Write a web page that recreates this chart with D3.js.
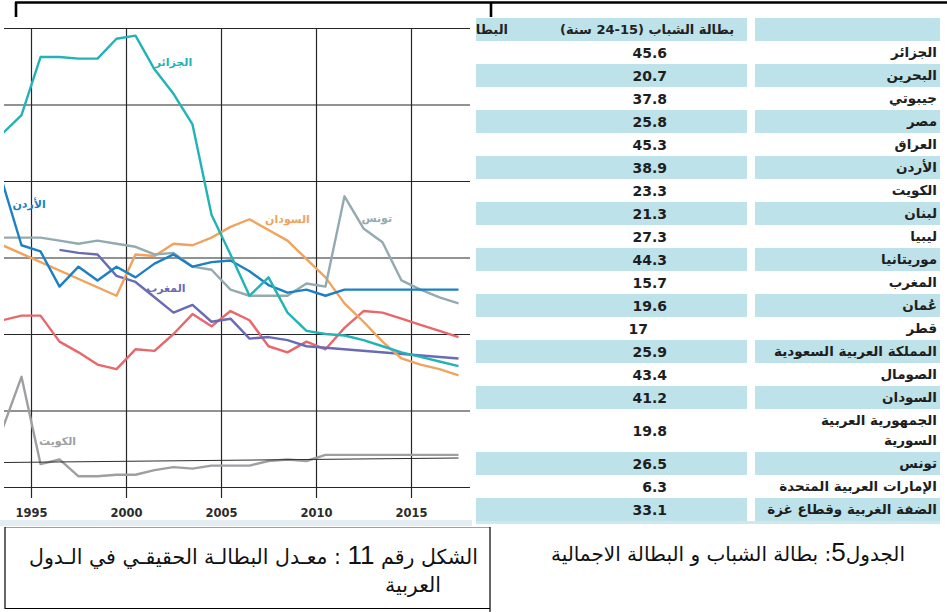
<!DOCTYPE html>
<html>
<head>
<meta charset="utf-8">
<script src="https://cdn.jsdelivr.net/npm/d3@7"></script>
<style>
body { margin: 0; background: #fff; }
svg { display: block; }
text { font-family: "DejaVu Sans", sans-serif; }
</style>
</head>
<body>
<div id="page"></div>
<script>
// years of the line chart (points sit in the middle of each year)
var years = [1993, 1994, 1995, 1996, 1997, 1998, 1999, 2000, 2001, 2002, 2003, 2004, 2005,
             2006, 2007, 2008, 2009, 2010, 2011, 2012, 2013, 2014, 2015, 2016, 2017];
var yearTicks = [1995, 2000, 2005, 2010, 2015];
var valueTicks = [0, 5, 10, 15, 20, 25, 30];

var algeria = [23.1, 24.3, 28.1, 28.1, 28.0, 28.0, 29.3, 29.5, 27.3, 25.7, 23.7, 17.8, 15.2,
               12.5, 13.7, 11.4, 10.2, 10.0, 9.9, 9.6, 9.2, 8.8, 8.5, 8.2, 7.9];
var jordan = [19.9, 15.8, 15.4, 13.1, 14.4, 13.5, 14.4, 13.7, 14.6, 15.2, 14.4, 14.7, 14.8,
              14.1, 13.2, 12.7, 12.9, 12.5, 12.9, 12.9, 12.9, 12.9, 12.9, 12.9, 12.9];
var tunisia = [16.3, 16.3, 16.3, 16.1, 15.9, 16.1, 15.9, 15.7, 15.2, 15.3, 14.4, 14.2, 12.9,
               12.5, 12.5, 12.5, 13.3, 13.1, 19.0, 16.9, 16.0, 13.5, 12.9, 12.4, 12.0];
var sudan = [15.8, null, null, null, null, null, 12.5, 15.2, 15.1, 15.9, 15.8, 16.3, 17.0,
             17.5, 16.8, 16.1, 14.9, 13.7, 12.0, 10.8, 9.5, 8.4, 8.0, 7.7, 7.3];
var morocco = [null, null, null, 15.5, 15.3, 15.2, 13.8, 13.4, 12.4, 11.4, 11.9, 10.8, 11.0,
               9.7, 9.8, 9.6, 9.2, 9.1, null, null, null, null, null, null, 8.4];
var redSeries = [10.9, 11.2, 11.2, 9.5, 8.8, 8.0, 7.7, 9.0, 8.9, 10.0, 11.3, 10.5, 11.5,
                 10.9, 9.2, 8.8, 9.5, 9.0, 10.4, 11.5, 11.4, 11.0, 10.6, 10.2, 9.8];
var kuwait = [3.8, 7.2, 1.5, 1.8, 0.7, 0.7, 0.8, 0.8, 1.1, 1.3, 1.2, 1.4, 1.4,
              1.4, 1.7, 1.8, 1.7, 2.1, 2.1, 2.1, 2.1, 2.1, 2.1, 2.1, 2.1];
var blackSeries = [1.6, null, null, null, null, null, null, null, null, null, null, null, null,
                   null, null, null, null, null, null, null, null, null, null, null, 1.9];

// table 5
var countries = ["الجزائر", "البحرين", "جيبوتي", "مصر", "العراق", "الأردن", "الكويت", "لبنان",
                 "ليبيا", "موريتانيا", "المغرب", "عُمان", "قطر", "المملكة العربية السعودية",
                 "الصومال", "السودان", "الجمهورية العربية\nالسورية", "تونس",
                 "الإمارات العربية المتحدة", "الضفة الغربية وقطاع غزة"];
var youthRates = ["45.6", "20.7", "37.8", "25.8", "45.3", "38.9", "23.3", "21.3", "27.3", "44.3",
                  "15.7", "19.6", "17", "25.9", "43.4", "41.2", "19.8", "26.5", "6.3", "33.1"];
var tableHeaders = ["بطالة الشباب (15-24 سنة)", "البطالة الاجمالية"];

var figureCaption = ["الشكل رقم ", "11", " : معـدل البطالـة الحقيقـي في الـدول", "العربية"];
var tableCaption = ["الجدول", "5", ": بطالة الشباب و البطالة الاجمالية"];

var w = 947;
var h = 612;

var svg = d3.select("#page")
    .append("svg")
    .attr("width", w)
    .attr("height", h);

var defs = svg.append("defs");
defs.append("clipPath").attr("id", "plotClip")
    .append("rect").attr("x", 4).attr("y", 0).attr("width", 466).attr("height", 520);
defs.append("clipPath").attr("id", "tableClip")
    .append("rect").attr("x", 476).attr("y", 10).attr("width", 471).attr("height", 515);

// ---------- line chart ----------
var x = d3.scaleLinear().domain([1995, 2015]).range([31, 411]);
var y = d3.scaleLinear().domain([0, 30]).range([487, 28]);

var chart = svg.append("g");

// light band at the bottom edge of the scanned figure
chart.append("rect")
    .attr("x", 0).attr("y", 520).attr("width", 472).attr("height", 6)
    .attr("fill", "#e4edf1");

var yGrid = chart.append("g")
    .attr("transform", "translate(4,0)")
    .call(d3.axisLeft(y).tickValues(valueTicks).tickSize(-466).tickFormat(""));
yGrid.select(".domain").remove();
yGrid.selectAll("line").attr("stroke", "#262626").attr("stroke-width", 1.2);

var xAxis = chart.append("g")
    .attr("transform", "translate(0,498)")
    .call(d3.axisBottom(x).tickValues(yearTicks).tickSize(-470).tickPadding(11).tickFormat(d3.format("d")));
xAxis.select(".domain").remove();
xAxis.selectAll("line").attr("stroke", "#262626").attr("stroke-width", 1.2);
xAxis.selectAll("text")
    .attr("fill", "#2b2b2b")
    .style("font-size", "11.5px")
    .style("font-weight", "bold");

var series = [
    {name: "الكويت", values: kuwait, color: "#9d9fa2"},
    {name: "", values: blackSeries, color: "#2e2e2e", width: 1.1},
    {name: "", values: redSeries, color: "#e8676b"},
    {name: "المغرب", values: morocco, color: "#6b6ab5"},
    {name: "السودان", values: sudan, color: "#f0a35d"},
    {name: "تونس", values: tunisia, color: "#93abb0"},
    {name: "الأردن", values: jordan, color: "#1c80c3"},
    {name: "الجزائر", values: algeria, color: "#22b3b7"}
];

var line = d3.line()
    .x(function(d) { return x(d.year + 0.5); })
    .y(function(d) { return y(d.value); });

chart.append("g")
    .attr("clip-path", "url(#plotClip)")
    .selectAll("path")
    .data(series)
    .enter()
    .append("path")
    .attr("fill", "none")
    .attr("stroke", function(d) { return d.color; })
    .attr("stroke-width", function(d) { return d.width || 2.4; })
    .attr("stroke-linejoin", "round")
    .attr("d", function(d) {
        var pts = [];
        years.forEach(function(yr, i) {
            if (d.values[i] !== null) pts.push({year: yr, value: d.values[i]});
        });
        return line(pts);
    });

// direct labels, placed in data units
var labelSpots = {
    "الجزائر": [2002.5, 27.8],
    "الأردن": [1994.9, 18.5],
    "السودان": [2008.5, 17.5],
    "تونس": [2013.2, 17.6],
    "المغرب": [2002.1, 13.0],
    "الكويت": [1996.4, 3.0]
};

chart.selectAll("text.lbl")
    .data(series.filter(function(d) { return d.name !== ""; }))
    .enter()
    .append("text")
    .attr("class", "lbl")
    .attr("x", function(d) { return x(labelSpots[d.name][0]); })
    .attr("y", function(d) { return y(labelSpots[d.name][1]); })
    .attr("dy", "0.35em")
    .attr("text-anchor", "middle")
    .attr("fill", function(d) { return d.color; })
    .style("font-size", "11px")
    .style("font-weight", "bold")
    .text(function(d) { return d.name; });

// ---------- table ----------
var cyan = "#bde2e9";
var rowH = 23;
var lineH = 20;
var cols = {total: [380, 553], youth: [553, 747], name: [755, 940]};

var rows = [];
var rowTop = 41;
countries.forEach(function(c, i) {
    var lines = c.split("\n");
    var hh = rowH + lineH * (lines.length - 1);
    rows.push({name: lines, value: youthRates[i], y0: rowTop, h: hh, fill: i % 2 ? cyan : "#fff"});
    rowTop += hh;
});

var table = svg.append("g").attr("clip-path", "url(#tableClip)");

// header row
table.append("rect").attr("x", cols.total[0]).attr("y", 18)
    .attr("width", cols.youth[1] - cols.total[0]).attr("height", rowH).attr("fill", cyan);
table.append("rect").attr("x", cols.name[0]).attr("y", 18)
    .attr("width", cols.name[1] - cols.name[0]).attr("height", rowH).attr("fill", cyan);
table.append("text")
    .attr("x", (cols.youth[0] + cols.youth[1]) / 2 - 3).attr("y", 18 + rowH / 2)
    .attr("dy", "0.35em").attr("direction", "rtl").attr("text-anchor", "middle")
    .attr("fill", "#222").style("font-size", "13px").style("font-weight", "bold")
    .text(tableHeaders[0]);
table.append("text")
    .attr("x", 508).attr("y", 18 + rowH / 2)
    .attr("dy", "0.35em").attr("direction", "rtl").attr("text-anchor", "start")
    .attr("fill", "#222").style("font-size", "13px").style("font-weight", "bold")
    .text(tableHeaders[1]);

var rowG = table.selectAll("g.row")
    .data(rows)
    .enter()
    .append("g")
    .attr("class", "row");

rowG.append("rect")
    .attr("x", cols.total[0]).attr("y", function(d) { return d.y0; })
    .attr("width", cols.youth[1] - cols.total[0]).attr("height", function(d) { return d.h; })
    .attr("fill", function(d) { return d.fill; });
rowG.append("rect")
    .attr("x", cols.name[0]).attr("y", function(d) { return d.y0; })
    .attr("width", cols.name[1] - cols.name[0]).attr("height", function(d) { return d.h; })
    .attr("fill", function(d) { return d.fill; });

// values lined up on the decimal point
rowG.append("text")
    .attr("x", function(d) { return d.value.indexOf(".") < 0 ? 648 : 667; })
    .attr("y", function(d) { return d.y0 + d.h / 2; })
    .attr("dy", "0.36em")
    .attr("text-anchor", "end")
    .attr("fill", "#1e1e1e")
    .style("font-size", "14px")
    .style("font-weight", "bold")
    .text(function(d) { return d.value; });

rowG.each(function(d) {
    var g = d3.select(this);
    d.name.forEach(function(t, k) {
        g.append("text")
            .attr("x", 937)
            .attr("y", d.y0 + rowH / 2 + k * lineH)
            .attr("dy", "0.35em")
            .attr("direction", "rtl")
            .attr("text-anchor", "start")
            .attr("fill", "#1e1e1e")
            .style("font-size", "13.5px")
            .style("font-weight", "bold")
            .text(t);
    });
});

// cut-off edge of the next table row
table.append("rect").attr("x", 476).attr("y", 521).attr("width", 464).attr("height", 3)
    .attr("fill", "#cfe8ee");

// ---------- frame and captions ----------
var frame = svg.append("g").attr("stroke", "#000").attr("fill", "none");
frame.append("line").attr("x1", 15).attr("x2", w).attr("y1", 2.5).attr("y2", 2.5).attr("stroke-width", 2.6);
frame.append("line").attr("x1", 16).attr("x2", 16).attr("y1", 2).attr("y2", 17).attr("stroke-width", 2.6);
frame.append("line").attr("x1", 491).attr("x2", 491).attr("y1", 2).attr("y2", 17).attr("stroke-width", 2.6);

frame.append("line").attr("x1", 5).attr("x2", 490).attr("y1", 527.5).attr("y2", 527.5).attr("stroke-width", 0.8).attr("stroke", "#888");
frame.append("line").attr("x1", 5).attr("x2", 5).attr("y1", 527).attr("y2", 609).attr("stroke-width", 1.2);
frame.append("line").attr("x1", 5).attr("x2", 490).attr("y1", 608.5).attr("y2", 608.5).attr("stroke-width", 1.2);
frame.append("line").attr("x1", 490).attr("x2", 490).attr("y1", 527).attr("y2", h).attr("stroke-width", 1.2);

var cap1 = svg.append("text")
    .attr("x", 478).attr("y", 564)
    .attr("direction", "rtl").attr("text-anchor", "start")
    .attr("fill", "#111").style("font-size", "20.5px");
cap1.append("tspan").text(figureCaption[0]);
cap1.append("tspan").style("font-size", "26px").style("font-family", "Liberation Sans").text(figureCaption[1]);
cap1.append("tspan").text(figureCaption[2]);

svg.append("text")
    .attr("x", 441).attr("y", 592)
    .attr("direction", "rtl").attr("text-anchor", "start")
    .attr("fill", "#111").style("font-size", "20.5px")
    .text(figureCaption[3]);

var cap2 = svg.append("text")
    .attr("x", 905).attr("y", 561)
    .attr("direction", "rtl").attr("text-anchor", "start")
    .attr("fill", "#111").style("font-size", "20px");
cap2.append("tspan").text(tableCaption[0]);
cap2.append("tspan").style("font-size", "26px").style("font-family", "Liberation Sans").text(tableCaption[1]);
cap2.append("tspan").text(tableCaption[2]);
</script>
</body>
</html>
